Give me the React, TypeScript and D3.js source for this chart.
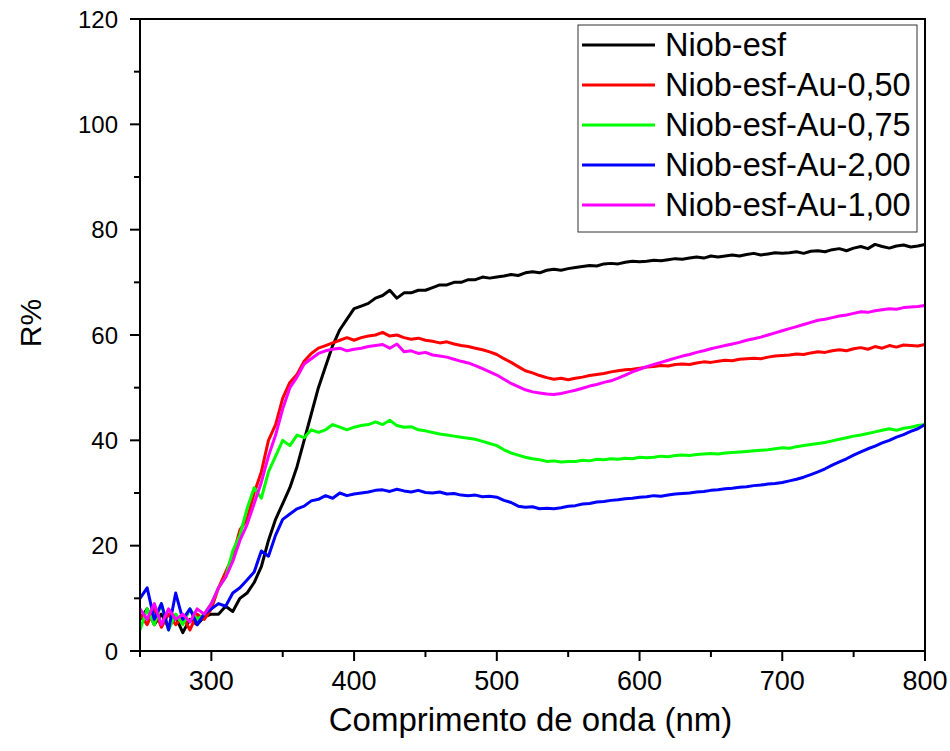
import React from "react";
import * as d3 from "d3";

const wavelength: number[] = d3.range(250, 805, 5);

const niobEsf = [
  6, 8, 5, 7, 4.5, 6.5, 3.5, 6, 5, 6.5, 7,
  7, 8.5, 7.5, 10, 11, 13, 16, 21, 25, 28, 31, 35, 40, 45, 50, 54, 58, 61, 63, 65,
  65.5, 66, 67, 67.5, 68.5, 67, 68, 68, 68.5, 68.5, 69, 69.5, 69.5, 70, 70, 70.5, 70.5, 71, 70.8, 71,
  71.2, 71.5, 71.3, 71.8, 72, 71.8, 72.3, 72.5, 72.3, 72.6, 72.8, 73, 73.2, 73.1, 73.5, 73.6, 73.5, 73.8, 74, 73.9,
  74, 74.2, 74.1, 74.3, 74.5, 74.4, 74.6, 74.8, 74.6, 75, 74.8, 75, 75.2, 75, 75.3, 75.5, 75.2, 75.4, 75.6, 75.5,
  75.6, 75.8, 75.5, 75.9, 76, 75.8, 76.2, 76.4, 76, 76.5, 76.8, 76.4, 77.2, 76.8, 76.5, 76.9, 77.1, 76.7, 76.9, 77.2,
];

const niobAu050 = [
  7, 5, 8, 4.5, 7, 5, 6.5, 4, 7, 6, 8,
  12, 15, 18, 23, 25, 30, 34, 40, 43, 48, 51, 52.5, 55, 56.5, 57.5, 58, 58.5, 59, 59.5, 59,
  59.5, 59.8, 60, 60.5, 59.8, 60, 59.5, 59.2, 59.4, 59, 58.8, 58.5, 58.7, 58.3, 58, 57.8, 57.5, 57.2, 56.8, 56.3,
  55.5, 54.8, 54, 53.2, 52.8, 52.3, 51.9, 51.6, 51.8, 51.5, 51.8, 52, 52.3, 52.5, 52.7, 53, 53.2, 53.4, 53.5, 53.7,
  53.9, 54, 54.2, 54.1, 54.4, 54.5, 54.4, 54.7, 54.9, 54.8, 55, 55.2, 55.1, 55.4, 55.5, 55.6, 55.5, 55.8, 56, 56.1,
  56.2, 56.4, 56.3, 56.6, 56.8, 56.7, 57, 57.2, 57, 57.4, 57.6, 57.3, 57.8, 57.5, 58, 57.7, 58.1, 58, 57.9, 58.2,
];

const niobAu075 = [
  4, 8, 5, 9, 4, 7, 5, 8, 6, 7, 9,
  12, 14, 19, 22, 27, 31, 29, 34, 37, 40, 39, 41, 40.5, 42, 41.5, 42, 43, 42.5, 42, 42.5,
  42.8, 43, 43.5, 43, 43.8, 42.8, 42.5, 42.6, 42, 41.8, 41.5, 41.2, 41, 40.8, 40.6, 40.4, 40.2, 39.8, 39.4, 39,
  38.2, 37.6, 37.2, 36.8, 36.5, 36.3, 36, 36.1, 35.9, 36, 36, 36.2, 36.1, 36.4, 36.3, 36.5, 36.4, 36.6, 36.5, 36.8,
  36.7, 36.8, 37, 36.9, 37.1, 37.2, 37.1, 37.3, 37.4, 37.5, 37.4, 37.6, 37.7, 37.8, 37.9, 38, 38.1, 38.2, 38.4, 38.6,
  38.5, 38.8, 39, 39.2, 39.4, 39.6, 39.9, 40.2, 40.5, 40.8, 41, 41.3, 41.6, 41.9, 42.2, 41.9, 42.3, 42.5, 42.8, 43,
];

const niobAu200 = [
  10, 12, 6, 9, 4, 11, 6, 8, 5, 7, 8,
  9, 8.5, 11, 12, 13.5, 15, 19, 18, 22, 25, 26, 27, 27.5, 28.5, 28.8, 29.5, 29, 30, 29.5, 29.8,
  30, 30.2, 30.5, 30.6, 30.3, 30.7, 30.4, 30.2, 30.5, 30.1, 30, 30.2, 29.8, 29.9, 29.6, 29.5, 29.6, 29.3, 29.4, 29.2,
  28.6, 28.2, 27.5, 27.3, 27.4, 27, 27.1, 27, 27.2, 27.5, 27.6, 27.9, 28, 28.3, 28.4, 28.6, 28.7, 28.9, 29, 29.2,
  29.3, 29.5, 29.4, 29.6, 29.8, 29.9, 30, 30.2, 30.3, 30.5, 30.6, 30.8, 30.9, 31.1, 31.2, 31.4, 31.5, 31.7, 31.8, 32,
  32.3, 32.6, 33, 33.5, 34, 34.6, 35.3, 35.9, 36.5, 37.2, 37.8, 38.4, 38.9, 39.5, 40, 40.6, 41.1, 41.7, 42.2, 43,
];

const niobAu100 = [
  8, 6, 9, 5, 8, 6, 7, 5.5, 8, 7, 9,
  12, 14, 17, 21, 24, 28, 32, 37, 41, 46, 50, 52, 54.5, 55.5, 56.5, 57, 57.3, 57.5, 57, 57.3,
  57.5, 57.8, 58, 58.2, 57.5, 58.3, 56.8, 57, 56.5, 56.7, 56.2, 56, 55.8, 55.4, 55, 54.7, 54.2, 53.6, 53, 52.4,
  51.6, 50.8, 50.2, 49.6, 49.2, 49, 48.8, 48.7, 48.9, 49.2, 49.5, 49.9, 50.3, 50.6, 51, 51.3, 51.8, 52.4, 53, 53.5,
  54, 54.4, 54.8, 55.2, 55.6, 56, 56.3, 56.7, 57, 57.4, 57.7, 58, 58.3, 58.6, 59, 59.3, 59.6, 60, 60.4, 60.8,
  61.2, 61.6, 62, 62.4, 62.8, 63, 63.3, 63.6, 63.8, 64.1, 64.4, 64.3, 64.6, 64.8, 65, 64.9, 65.2, 65.3, 65.4, 65.6,
];

const seriesNames = ["Niob-esf", "Niob-esf-Au-0,50", "Niob-esf-Au-0,75", "Niob-esf-Au-2,00", "Niob-esf-Au-1,00"];
const seriesColors = ["#000000", "#ff0000", "#00ff00", "#0000ff", "#ff00ff"];
const seriesValues = [niobEsf, niobAu050, niobAu075, niobAu200, niobAu100];

const xMajorTicks = [300, 400, 500, 600, 700, 800];
const xMinorTicks = [250, 350, 450, 550, 650, 750];
const yMajorTicks = [0, 20, 40, 60, 80, 100, 120];
const yMinorTicks = [10, 30, 50, 70, 90, 110];

const xTitle = "Comprimento de onda (nm)";
const yTitle = "R%";

export default function App() {
  const W = 950, H = 751;
  const left = 140, right = 925, top = 19, bottom = 651;
  const x = d3.scaleLinear().domain([250, 800]).range([left, right]);
  const y = d3.scaleLinear().domain([0, 120]).range([bottom, top]);
  const line = d3.line<number>().x((_, i) => x(wavelength[i])).y((d) => y(d));
  const font = "'Liberation Sans', Arial, sans-serif";

  const legX = 578, legY = 25, legW = 339, legH = 207;

  return (
    <svg width={W} height={H} style={{ position: "absolute", left: 0, top: 0, background: "#fff" }}>
      <defs>
        <clipPath id="plot">
          <rect x={left} y={top} width={right - left} height={bottom - top} />
        </clipPath>
      </defs>
      <rect x={0} y={0} width={W} height={H} fill="#fff" />
      <g clipPath="url(#plot)">
        {seriesValues.map((vals, k) => (
          <path key={k} d={line(vals) || ""} fill="none" stroke={seriesColors[k]} strokeWidth={3} strokeLinejoin="round" />
        ))}
      </g>
      <rect x={left} y={top} width={right - left} height={bottom - top} fill="none" stroke="#000" strokeWidth={2} />
      {xMajorTicks.map((t) => (
        <g key={"xm" + t}>
          <line x1={x(t)} x2={x(t)} y1={bottom} y2={bottom + 10} stroke="#000" strokeWidth={2} />
          <text x={x(t)} y={690} textAnchor="middle" fontFamily={font} fontSize={27}>{t}</text>
        </g>
      ))}
      {xMinorTicks.map((t) => (
        <line key={"xn" + t} x1={x(t)} x2={x(t)} y1={bottom} y2={bottom + 6} stroke="#000" strokeWidth={2} />
      ))}
      {yMajorTicks.map((t) => (
        <g key={"ym" + t}>
          <line x1={left - 10} x2={left} y1={y(t)} y2={y(t)} stroke="#000" strokeWidth={2} />
          <text x={118} y={y(t) + 8.5} textAnchor="end" fontFamily={font} fontSize={24}>{t}</text>
        </g>
      ))}
      {yMinorTicks.map((t) => (
        <line key={"yn" + t} x1={left - 6} x2={left} y1={y(t)} y2={y(t)} stroke="#000" strokeWidth={2} />
      ))}
      <text x={(left + right) / 2 - 2} y={731} textAnchor="middle" fontFamily={font} fontSize={33}>{xTitle}</text>
      <text transform={`translate(41, 323) rotate(-90)`} textAnchor="middle" fontFamily={font} fontSize={30}>{yTitle}</text>
      <rect x={legX} y={legY} width={legW} height={legH} fill="#fff" stroke="#333" strokeWidth={1} />
      {seriesNames.map((name, k) => {
        const cy = 45 + k * 40;
        return (
          <g key={name}>
            <line x1={582} x2={655} y1={cy} y2={cy} stroke={seriesColors[k]} strokeWidth={3} />
            <text x={665} y={cy + 11} fontFamily={font} fontSize={32.5}>{name}</text>
          </g>
        );
      })}
    </svg>
  );
}
